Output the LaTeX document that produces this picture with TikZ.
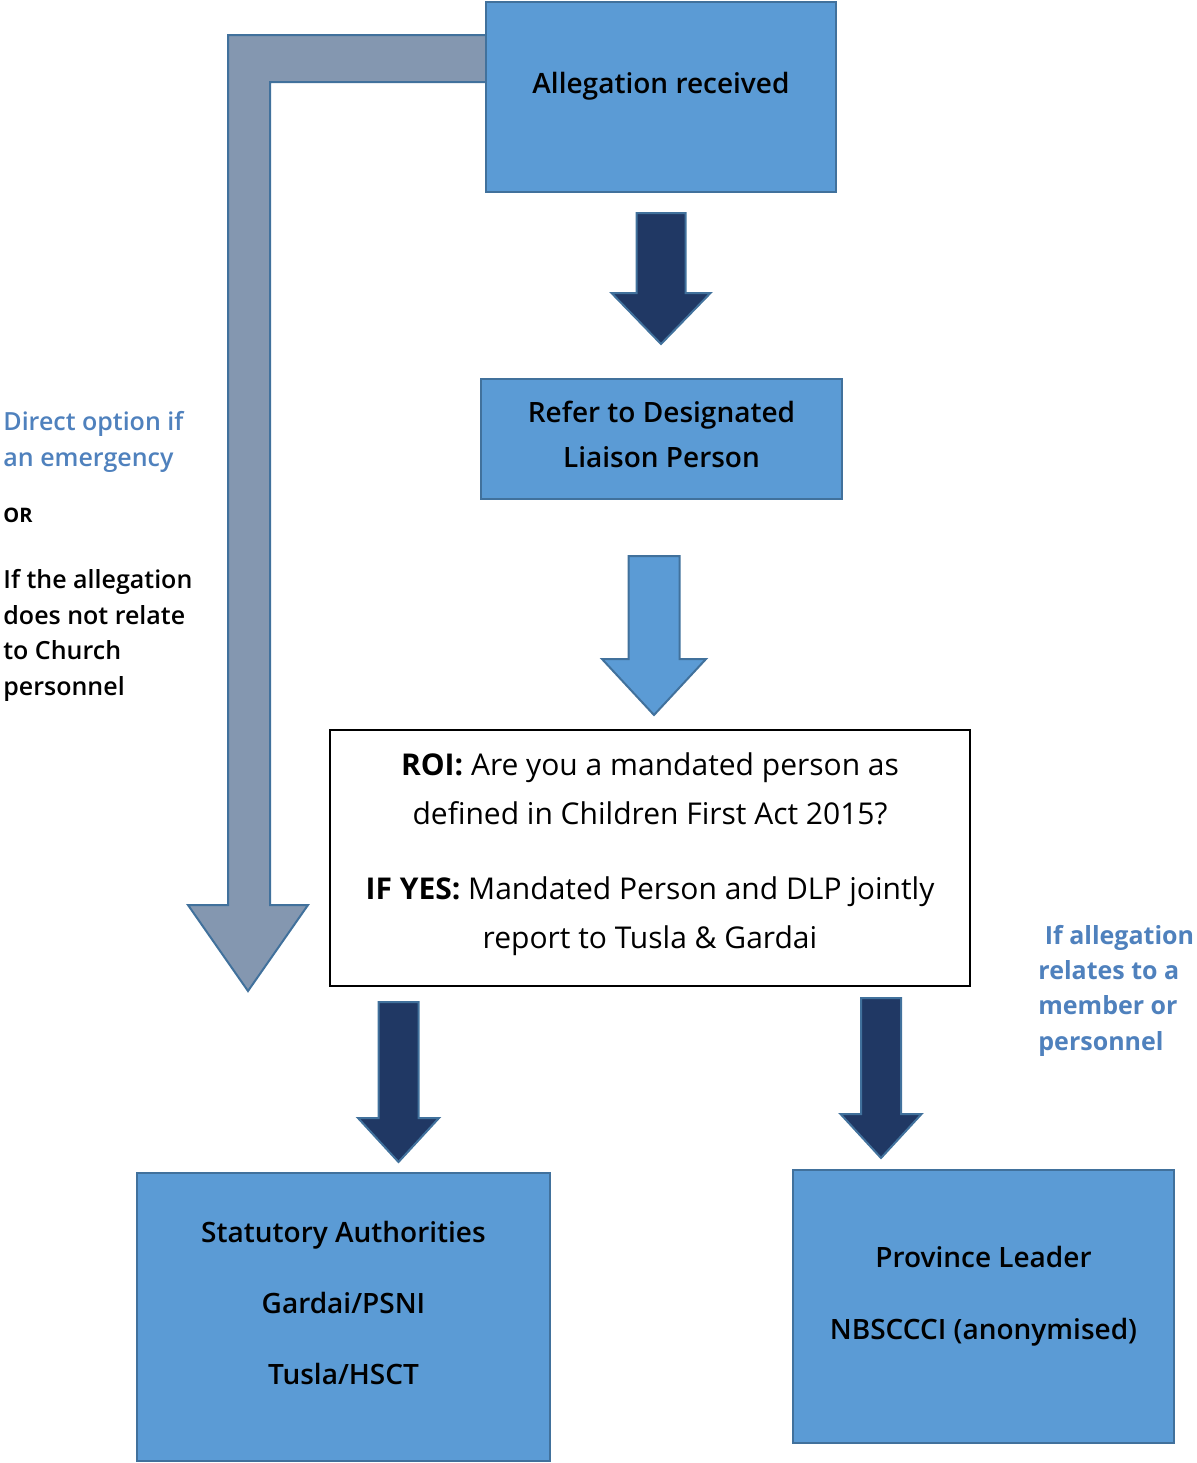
\documentclass[tikz,border=0pt]{standalone}
\usepackage{fontspec}
\setmainfont{Open Sans}
\IfFontExistsTF{Open Sans SemiBold}{\newfontfamily\semifont{Open Sans SemiBold}}{%
  \IfFontExistsTF{Open Sans Semibold}{\newfontfamily\semifont{Open Sans Semibold}}{%
    \newfontfamily\semifont[FakeBold=1.2]{Open Sans}}}
\usetikzlibrary{positioning,calc}
\definecolor{boxblue}{HTML}{5B9BD5}
\definecolor{edgeblue}{HTML}{41719C}
\definecolor{navy}{HTML}{203864}
\definecolor{slate}{HTML}{8497B0}
\definecolor{noteblue}{HTML}{4F81BD}
% fill, centre x, top y, tip y, half shaft, half head, head length
\newcommand{\blockarrow}[7]{%
  \filldraw[arrowline, fill=#1] (#2-#5,#3) -- (#2+#5,#3) -- (#2+#5,#4-#7) -- (#2+#6,#4-#7)
    -- (#2,#4) -- (#2-#6,#4-#7) -- (#2-#5,#4-#7) -- cycle;}

\begin{document}
\begin{tikzpicture}[x=0.5pt, y=-0.5pt, every node/.style={align=center, font=\semifont\fontsize{14}{22.5}\selectfont},
    bluebox/.style={rectangle, draw=edgeblue, line width=1pt, fill=boxblue},
    whitebox/.style={rectangle, draw=black, line width=0.8pt, fill=white},
    arrowline/.style={draw=edgeblue, line width=1pt, line join=miter},
    note/.style={align=left, anchor=north west, inner sep=0pt, font=\semifont\fontsize{12.5}{17.75}\selectfont}]
    \useasboundingbox (0,0) rectangle (1196,1463);

    % direct route
    \filldraw[arrowline, fill=slate] (487,35) -- (228,35) -- (228,905) -- (188,905) -- (248,991)
        -- (308,905) -- (270,905) -- (270,82) -- (487,82) -- cycle;

    \node [bluebox, minimum width=175pt, minimum height=95pt] (alleg) at (661,97) {};
    \node (allegtext) at (661,86) {Allegation received};
    \node [bluebox, minimum width=180.5pt, minimum height=60pt] (dlp) at (661.5,439) {};
    \node (dlptext) at (661.5,434) {Refer to Designated\\Liaison Person};
    \node [whitebox, minimum width=320pt, minimum height=128pt] (roi) at (650,858) {};
    \node [font=\fontsize{15}{24.5}\selectfont] (roitext) at (650,854.5) {\textbf{ROI:} Are you a mandated person as\\defined in Children First Act 2015?\\[13pt]\textbf{IF YES:} Mandated Person and DLP jointly\\report to Tusla \& Gardai};
    \node [bluebox, minimum width=206.5pt, minimum height=144pt] (stat) at (343.5,1317) {};
    \node [font=\semifont\fontsize{14}{35.5}\selectfont] (stattext) at (343.5,1303) {Statutory Authorities\\Gardai/PSNI\\Tusla/HSCT};
    \node [bluebox, minimum width=190.5pt, minimum height=136.5pt] (prov) at (983.5,1306.5) {};
    \node [font=\semifont\fontsize{14}{36}\selectfont] (provtext) at (983.5,1296) {Province Leader\\NBSCCCI (anonymised)};

    \blockarrow{navy}{661}{213}{344}{24.5}{49.5}{51}
    \blockarrow{boxblue}{654}{556}{715}{25.5}{52}{56}
    \blockarrow{navy}{398.5}{1002}{1162}{20}{40.5}{44}
    \blockarrow{navy}{881}{998}{1158}{20}{40.5}{44}

    \node [note, text=noteblue] (emerg) at (3,411) {Direct option if\\an emergency};
    \node [note, font=\fontsize{10}{10}\selectfont\bfseries] (orword) at (3,508) {OR};
    \node [note] (notchurch) at (3,569) {If the allegation\\does not relate\\to Church\\personnel};
    \node [note, text=noteblue, font=\fontsize{12.5}{17.6}\selectfont\bfseries] (member) at (1038,925) {\ If allegation\\relates to a\\member or\\personnel};
\end{tikzpicture}
\end{document}
